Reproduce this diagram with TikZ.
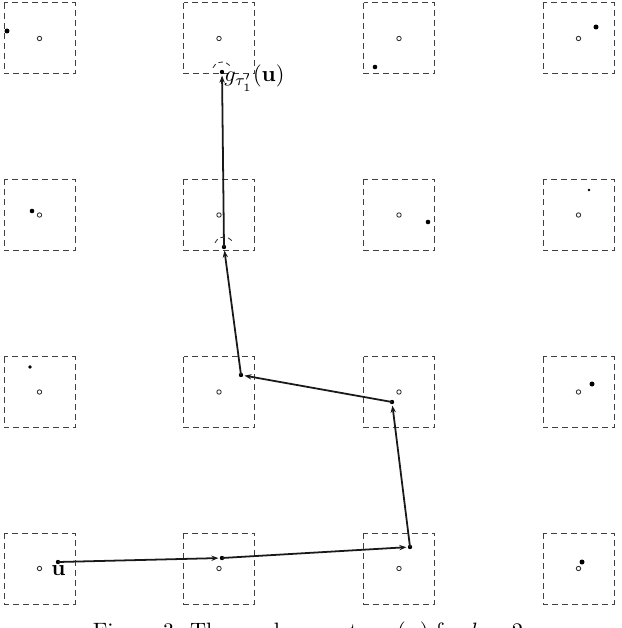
\documentclass[tikz,border=0pt]{standalone}
\usetikzlibrary{arrows.meta,calc}
\begin{document}
\begin{tikzpicture}[x=0.45pt,y=-0.45pt,
  cell/.style={draw=black!75,line width=0.45pt,dash pattern=on 2.7pt off 1.8pt},
  ctr/.style={draw=black!80,line width=0.4pt},
  pt/.style={fill=black},
  walk/.style={draw=black!90,line width=0.8pt,-{Stealth[length=3.2pt,width=2.4pt]},shorten >=1.6pt},
  anglemark/.style={draw=black!80,line width=0.4pt,dash pattern=on 2pt off 1.5pt}]
\useasboundingbox (0,0) rectangle (622,628);
% grid of cells
\foreach \cx in {39.5,219,399,578.5}{
  \foreach \cy in {38.5,215,392,568.5}{
    \draw[cell] (\cx-35.5,\cy-35.5) rectangle (\cx+35.5,\cy+35.5);
    \draw[ctr] (\cx,\cy) circle[radius=2.2];
  }
}
% isolated sample points
\fill[pt] (7,31) circle[radius=2.5];
\fill[pt] (375,67) circle[radius=2.3];
\fill[pt] (596,27) circle[radius=2.5];
\fill[pt] (32,211) circle[radius=2.3];
\fill[pt] (428,222) circle[radius=2.3];
\fill[pt] (589,190) circle[radius=1.3];
\fill[pt] (30,367) circle[radius=1.8];
\fill[pt] (592,384) circle[radius=2.5];
\fill[pt] (582,562) circle[radius=2.5];
% walk points
\coordinate (u) at (58,562);
\coordinate (p1) at (222,558);
\coordinate (p2) at (410,547);
\coordinate (p3) at (392,402);
\coordinate (p4) at (241,375);
\coordinate (p5) at (224,247);
\coordinate (p6) at (222,72);
\foreach \p in {u,p1,p2,p3,p4,p5,p6}{\fill[pt] (\p) circle[radius=2.2];}
\draw[walk] (u) -- (p1);
\draw[walk] (p1) -- (p2);
\draw[walk] (p2) -- (p3);
\draw[walk] (p3) -- (p4);
\draw[walk] (p4) -- (p5);
\draw[walk] (p5) -- (p6);
% small dashed arcs
\draw[anglemark] ($(p6)+(205:10)$) arc (205:335:10);
\draw[anglemark] ($(p5)+(205:10)$) arc (205:335:10);
% labels
\node[anchor=base west,inner sep=0pt] (lu) at (51,575) {$\mathbf{u}$};
\node[anchor=base west,inner sep=0pt] (lg) at (224,82) {$g_{\tau_1'}(\mathbf{u})$};
% caption (cut off by the page edge)
\node[anchor=base,inner sep=0pt] (cap) at (311,638) {Figure 3: The random route $g_{\tau}(\mathbf{u})$ for $k=2$.};
\end{tikzpicture}
\end{document}
